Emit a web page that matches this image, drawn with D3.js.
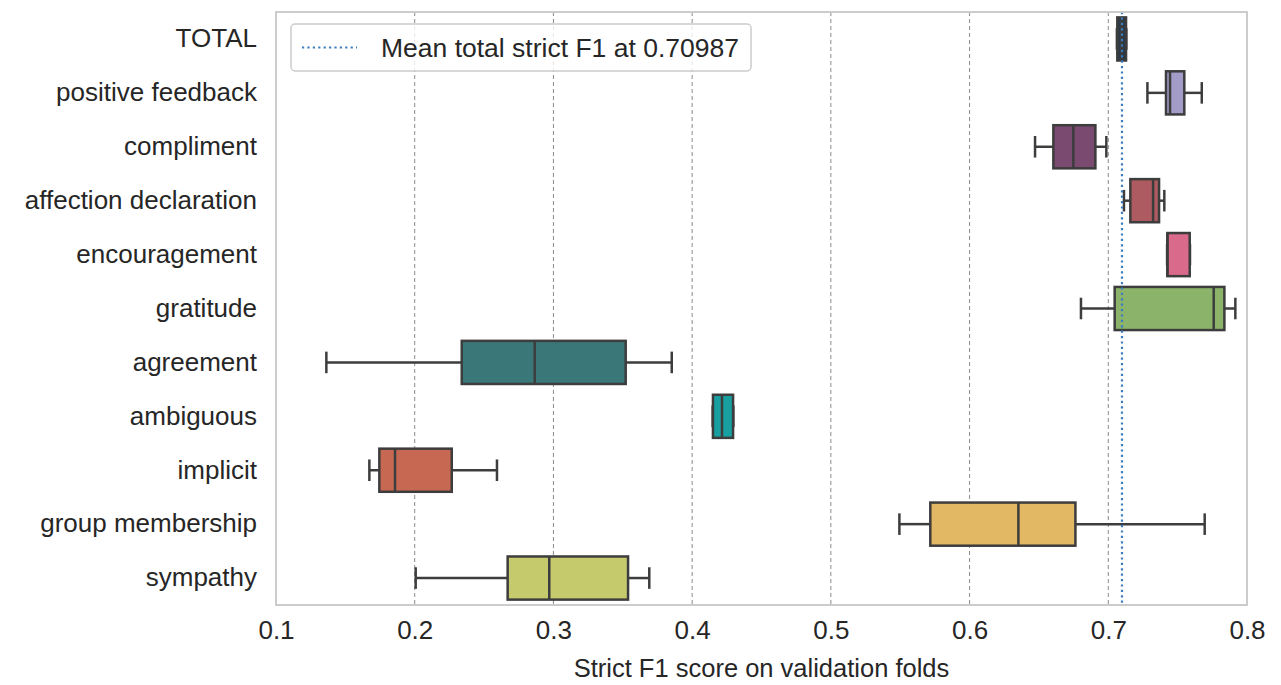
<!DOCTYPE html>
<html>
<head>
<meta charset="utf-8">
<script src="https://cdn.jsdelivr.net/npm/d3@7"></script>
<style>
  body { margin: 0; background: #fff; }
  text { font-family: "Liberation Sans", Arial, Helvetica, sans-serif; fill: #262626; }
</style>
</head>
<body>
<div id="chart"></div>
<script>
// categories, top to bottom
const categories = ['TOTAL', 'positive feedback', 'compliment', 'affection declaration',
  'encouragement', 'gratitude', 'agreement', 'ambiguous', 'implicit',
  'group membership', 'sympathy'];

// box stats: whisker low, q1, median, q3, whisker high
const whiskerLow = [0.7062, 0.7282, 0.6472, 0.7113, 0.7424, 0.6803, 0.1363, 0.4148, 0.1673, 0.5494, 0.2007];
const q1 =         [0.7065, 0.7416, 0.6604, 0.7159, 0.7426, 0.7046, 0.2339, 0.4150, 0.1745, 0.5717, 0.2670];
const median =     [0.7095, 0.7445, 0.6748, 0.7323, 0.7426, 0.7760, 0.2865, 0.4215, 0.1858, 0.6352, 0.2970];
const q3 =         [0.7128, 0.7548, 0.6907, 0.7366, 0.7587, 0.7837, 0.3521, 0.4295, 0.2267, 0.6763, 0.3538];
const whiskerHigh = [0.7130, 0.7674, 0.6986, 0.7404, 0.7589, 0.7916, 0.3853, 0.4297, 0.2593, 0.7695, 0.3691];

const colors = ['#2c3a4a', '#a39bc8', '#7a4a70', '#ad5b60', '#d96a8b', '#8cb36a',
  '#397778', '#18a0a0', '#c76852', '#e3b864', '#c5ca6c'];

const meanTotal = 0.70987;
const xTicks = [0.1, 0.2, 0.3, 0.4, 0.5, 0.6, 0.7, 0.8];

const width = 1281, height = 685;
const margin = {top: 12, right: 34, bottom: 80, left: 276};
const innerW = width - margin.left - margin.right;
const innerH = height - margin.top - margin.bottom;
const fontSize = '26px';

const svg = d3.select('#chart').append('svg')
  .attr('width', width)
  .attr('height', height);

const g = svg.append('g')
  .attr('transform', `translate(${margin.left}, ${margin.top})`);

const x = d3.scaleLinear().domain([0.1, 0.8]).range([0, innerW]);
const y = d3.scaleBand().domain(categories).range([0, innerH]).paddingInner(0.2).paddingOuter(0.1);
const rowY = d3.scaleBand().domain(categories).range([0, innerH]);

// dashed grid
g.append('g')
  .selectAll('line')
  .data(xTicks.slice(1, -1))
  .join('line')
    .attr('x1', (d) => x(d)).attr('x2', (d) => x(d))
    .attr('y1', 0).attr('y2', innerH)
    .attr('stroke', '#8a8a8a')
    .attr('stroke-width', 1)
    .attr('stroke-dasharray', '4,3');

// boxes
const stats = categories.map((c, i) => ({
  name: c, lo: whiskerLow[i], q1: q1[i], med: median[i], q3: q3[i], hi: whiskerHigh[i], color: colors[i]
}));

const boxes = g.append('g').selectAll('g')
  .data(stats)
  .join('g')
  .attr('transform', (d) => `translate(0, ${rowY(d.name) + rowY.bandwidth() / 2})`);

const stroke = '#3d3d3d';
const bh = y.bandwidth();

boxes.append('line')
  .attr('x1', (d) => x(d.lo)).attr('x2', (d) => x(d.q1))
  .attr('stroke', stroke).attr('stroke-width', 2.5);
boxes.append('line')
  .attr('x1', (d) => x(d.q3)).attr('x2', (d) => x(d.hi))
  .attr('stroke', stroke).attr('stroke-width', 2.5);
boxes.append('line')
  .attr('x1', (d) => x(d.lo)).attr('x2', (d) => x(d.lo))
  .attr('y1', -bh / 4).attr('y2', bh / 4)
  .attr('stroke', stroke).attr('stroke-width', 2.5);
boxes.append('line')
  .attr('x1', (d) => x(d.hi)).attr('x2', (d) => x(d.hi))
  .attr('y1', -bh / 4).attr('y2', bh / 4)
  .attr('stroke', stroke).attr('stroke-width', 2.5);
boxes.append('rect')
  .attr('x', (d) => x(d.q1))
  .attr('y', -bh / 2)
  .attr('width', (d) => x(d.q3) - x(d.q1))
  .attr('height', bh)
  .attr('fill', (d) => d.color)
  .attr('stroke', stroke).attr('stroke-width', 2.5);
boxes.append('line')
  .attr('x1', (d) => x(d.med)).attr('x2', (d) => x(d.med))
  .attr('y1', -bh / 2).attr('y2', bh / 2)
  .attr('stroke', stroke).attr('stroke-width', 2.5);

// mean line
g.append('line')
  .attr('x1', x(meanTotal)).attr('x2', x(meanTotal))
  .attr('y1', 0).attr('y2', innerH)
  .attr('stroke', '#3b7dbd')
  .attr('stroke-width', 2.2)
  .attr('stroke-dasharray', '2.2,3.2');

// frame
g.append('rect')
  .attr('width', innerW).attr('height', innerH)
  .attr('fill', 'none')
  .attr('stroke', '#cccccc')
  .attr('stroke-width', 2);

// axes
const xAxis = g.append('g')
  .attr('transform', `translate(0, ${innerH})`)
  .call(d3.axisBottom(x).tickValues(xTicks).tickSize(0).tickPadding(16).tickFormat(d3.format('.1f')));
xAxis.select('.domain').remove();
xAxis.selectAll('text').style('font-size', fontSize).attr('fill', '#262626');

const yAxis = g.append('g')
  .call(d3.axisLeft(rowY).tickSize(0).tickPadding(19));
yAxis.select('.domain').remove();
yAxis.selectAll('text').style('font-size', fontSize).attr('fill', '#262626');

svg.append('text')
  .attr('x', margin.left + innerW / 2)
  .attr('y', 677)
  .attr('text-anchor', 'middle')
  .style('font-size', '25.5px')
  .text('Strict F1 score on validation folds');

// legend
const legend = g.append('g').attr('transform', 'translate(15, 12)');
legend.append('rect')
  .attr('width', 460).attr('height', 47)
  .attr('rx', 4)
  .attr('fill', 'white').attr('fill-opacity', 0.8)
  .attr('stroke', '#cccccc').attr('stroke-width', 1.5);
legend.append('line')
  .attr('x1', 11).attr('x2', 66)
  .attr('y1', 23.5).attr('y2', 23.5)
  .attr('stroke', '#3b7dbd').attr('stroke-width', 2.2)
  .attr('stroke-dasharray', '2.2,3.2');
legend.append('text')
  .attr('x', 90).attr('y', 33)
  .style('font-size', '26.5px')
  .text(`Mean total strict F1 at ${meanTotal}`);
</script>
</body>
</html>
